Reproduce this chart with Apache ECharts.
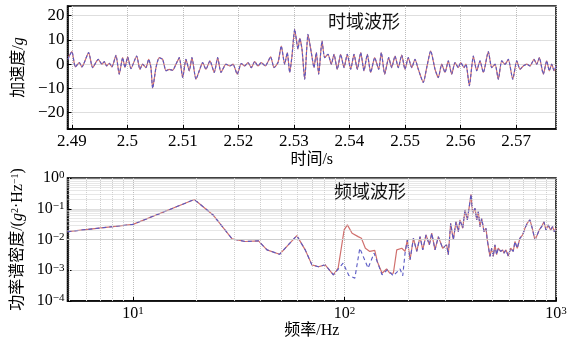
<!DOCTYPE html>
<html>
<head>
<meta charset="utf-8">
<script src="https://cdn.jsdelivr.net/npm/echarts@6/dist/echarts.min.js"></script>
<style>
  html, body { margin: 0; padding: 0; background: #fff; }
  #chart { width: 573px; height: 343px; }
</style>
</head>
<body>
<div id="chart"></div>
<script>
// 时域波形 (time / s, acceleration / g)
var timeS = [
  2.4893, 2.48951, 2.4900, 2.49059, 2.49103, 2.49132, 2.4918, 2.49301, 2.49373, 2.49474,
  2.49541, 2.49582, 2.49625, 2.49672, 2.49721, 2.49793, 2.49852, 2.49914, 2.49955, 2.50004,
  2.50063, 2.50166, 2.50225, 2.50274, 2.50333, 2.50382, 2.50423, 2.50454, 2.50514, 2.50573,
  2.50634, 2.50694, 2.50753, 2.50814, 2.50874, 2.50933, 2.50995, 2.51054, 2.51114, 2.51162,
  2.51234, 2.51294, 2.51355, 2.51414, 2.51486, 2.51564, 2.51625, 2.51685, 2.51775, 2.51847,
  2.51901, 2.51978, 2.5205, 2.52112, 2.52171, 2.52231, 2.52292, 2.52351, 2.52411, 2.52483,
  2.5258, 2.5264, 2.52712, 2.52771, 2.52832, 2.52879, 2.52923, 2.52964, 2.53013, 2.53072,
  2.53103, 2.53144, 2.53193, 2.53252, 2.53312, 2.5336, 2.53402, 2.53445, 2.53505, 2.53553,
  2.53613, 2.53672, 2.53721, 2.5378, 2.53841, 2.53901, 2.5396, 2.54022, 2.54081, 2.54141,
  2.54202, 2.54261, 2.54321, 2.54382, 2.54454, 2.54526, 2.54573, 2.54634, 2.54706, 2.5476,
  2.5482, 2.54879, 2.54941, 2.55, 2.55059, 2.55121, 2.5518, 2.5524, 2.5533, 2.55391,
  2.55463, 2.55541, 2.556, 2.55661, 2.55721, 2.5578, 2.55841, 2.55901, 2.5596, 2.56004,
  2.56063, 2.56099, 2.56159, 2.56231, 2.56292, 2.56351, 2.56411, 2.56501, 2.56562, 2.56622,
  2.56681, 2.56742, 2.56802, 2.56861, 2.56941, 2.57013, 2.57072, 2.57131, 2.57193, 2.57252,
  2.57324, 2.57373, 2.5742, 2.57492, 2.57553, 2.576, 2.57643, 2.57685, 2.57721
]
var accelG = [
  2.0, 3.4, 5.2, -1.1, 0, 0.7, -1.1, 4.8, -1.4, 2.0,
  0, 1.1, -0.7, 0.4, -1.1, 3.7, -4.1, 2.7, -1.4, 3.0,
  -1.8, 3.4, -2.1, 0, -1.4, 2.0, -1.4, -9.9, -1.4, 2.7,
  2.0, -2.7, -2.1, -2.5, 0, 2.7, -5.5, 2.0, -2.7, 2.7,
  -6.2, -2.7, 0.7, -2.1, 1.4, -3.4, 2.7, -3.4, 0, -0.7,
  0, -4.1, 0.3, -0.7, 0.7, -1.4, 1.1, -0.7, 0.7, -0.7,
  3.0, -1.4, 0.7, 7.5, 0, 4.8, -3.4, 3.4, 14.4, 6.2,
  10.7, 6.2, -6.2, 12.3, 4.8, -1.4, 4.8, -4.1, 9.6, 2.7,
  4.1, 0, 4.1, -2.1, 4.1, -1.4, 4.1, -2.1, 4.1, -2.1,
  4.8, -2.7, 4.1, -3.4, 2.7, -2.1, 4.8, -4.1, 2.7, -1.4,
  3.4, -1.4, 3.8, -2.1, 2.7, -1.4, 2.0, -2.1, -7.5, -1.4,
  5.5, -2.1, -5.5, 0, -3.4, 1.4, -4.1, 0.7, -1.4, 0.7,
  -1.4, 0, -8.9, 3.4, -2.7, 1.4, -3.4, 5.2, -1.4, 0,
  -6.2, 1.4, 0, 2.0, -6.2, 1.4, -2.1, -0.7, 0, -0.7,
  2.0, 0, 2.7, -4.1, 1.4, -2.7, 0, -2.7, -0.7
]

// 频域波形 (frequency / Hz, PSD / g^2·Hz^-1)
var freqLow = [4.9, 10, 19.5, 23.9, 29.4, 33.9, 39.2, 43.0, 49.3, 59.5, 65.2, 70.1, 75.3, 81.0, 88.6]
var psdLow = [0.018, 0.031, 0.20, 0.063, 0.0105, 0.0086, 0.0090, 0.0046, 0.0033, 0.0134, 0.0046, 0.0015, 0.0013, 0.0015, 0.00071]

var freqRedMid = [93.3, 99.6, 103.2, 108.6, 116.0, 120.2, 125.5, 131.7, 139.0, 143.0, 150.5, 158.1, 163.7, 170.2, 176.6, 186.6, 193.3]
var psdRedMid = [0.00117, 0.0205, 0.0298, 0.016, 0.0124, 0.011, 0.0052, 0.0041, 0.0044, 0.0019, 0.0008, 0.0011, 0.0008, 0.0008, 0.0046, 0.0052, 0.0041]

var freqBlueMid = [98.5, 104.8, 111.9, 118.1, 129.3, 138.0, 150.5, 159.4, 170.2, 183.0, 188.5, 193.3]
var psdBlueMid = [0.0017, 0.00068, 0.00055, 0.0052, 0.00117, 0.0036, 0.00071, 0.00103, 0.00066, 0.00111, 0.00066, 0.0036]

var freqHigh = [
  198.2, 204.2, 211.7, 219.6, 227.6, 234.4, 242.9, 251.8, 258.5, 267.9,
  277.7, 291.2, 304.1, 309.5, 317.7, 326.9, 336.7, 345.1, 351.6, 362.1,
  371.3, 380.7, 389.0, 396.3, 403.7, 414.1, 421.8, 429.2, 437.2, 445.4,
  456.6, 466.7, 473.2, 487.3, 496.3, 505.0, 514.4, 524.0, 533.3, 547.4,
  559.5, 567.5, 580.0, 594.7, 610.4, 627.9, 639.6, 655.8, 675.4, 695.5,
  713.1, 731.1, 752.9, 772.0, 795.0, 815.2, 833.1, 855.1, 876.8, 896.0,
  918.8, 942.9, 963.6, 980.6, 1000
]
var psdHigh = [
  0.0097, 0.0022, 0.011, 0.0041, 0.0124, 0.0046, 0.0141, 0.0067, 0.016, 0.0046,
  0.0124, 0.0052, 0.0067, 0.0032, 0.0338, 0.0097, 0.0381, 0.018, 0.0433, 0.0233,
  0.0914, 0.0433, 0.117, 0.30, 0.0714, 0.104, 0.0433, 0.0805, 0.0262, 0.0491,
  0.018, 0.0233, 0.0097, 0.0028, 0.0052, 0.0028, 0.0067, 0.0032, 0.0052, 0.0041,
  0.0046, 0.0036, 0.0046, 0.0029, 0.0052, 0.0041, 0.0086, 0.0052, 0.011, 0.0141,
  0.0233, 0.0338, 0.0433, 0.0233, 0.0097, 0.0141, 0.0205, 0.0262, 0.0381, 0.0205,
  0.0298, 0.0205, 0.0262, 0.018, 0.0233
]

var RED = '#d0706e'
var BLUE = '#5a5ac4'
var NUM_FONT = '"Liberation Serif", "Noto Sans CJK SC", serif'
var CJK_FONT = '"Liberation Serif", "Noto Sans CJK SC", serif'

function pairs(xs, ys) {
  return xs.map(function (x, i) { return [x, ys[i]] })
}

var waveData = pairs(timeS, accelG)
var psdRed = pairs(freqLow, psdLow).concat(pairs(freqRedMid, psdRedMid), pairs(freqHigh, psdHigh))
var psdBlue = pairs(freqLow, psdLow).concat(pairs(freqBlueMid, psdBlueMid), pairs(freqHigh, psdHigh))

// 对数坐标的次网格线 (2..9 × 10^k)
var minorX = []
var minorY = []
;[1, 10, 100].forEach(function (d) {
  for (var k = 2; k <= 9; k++) {
    if (d * k > 4.9 && d * k < 1000) minorX.push(d * k)
  }
})
;[1e-4, 1e-3, 1e-2, 1e-1].forEach(function (d) {
  for (var k = 2; k <= 9; k++) minorY.push(+(d * k).toPrecision(3))
})

function powLabel(v) {
  var e = Math.log10(v)
  var r = Math.round(e)
  if (Math.abs(e - r) > 1e-6) return ''
  return '{b|10}{s|' + String(r).replace('-', '−') + '}'
}

var powRich = {
  b: { fontFamily: NUM_FONT, fontSize: 16, color: '#000' },
  s: { fontFamily: NUM_FONT, fontSize: 11, color: '#000', verticalAlign: 'top' }
}

var axisLineStyle = { show: true, onZero: false, lineStyle: { color: '#000', width: 1.5 } }
var tickStyle = { show: true, inside: true, length: 4, lineStyle: { color: '#000', width: 1 } }
var majorGrid = { show: true, lineStyle: { color: '#bdbdbd', type: 'dotted', width: 1 } }

var myChart = echarts.init(document.getElementById('chart'))

var option = {
  animation: false,
  backgroundColor: '#fff',
  title: [
    {
      text: '时域波形', left: 328, top: 14, padding: 0,
      textStyle: { fontFamily: CJK_FONT, fontSize: 18, fontWeight: 'normal', color: '#111' }
    },
    {
      text: '频域波形', left: 334, top: 184, padding: 0,
      textStyle: { fontFamily: CJK_FONT, fontSize: 18, fontWeight: 'normal', color: '#111' }
    }
  ],
  grid: [
    { left: 67.5, right: 17, top: 6, height: 123, show: true, borderColor: '#000', borderWidth: 1.5, backgroundColor: '#fff' },
    { left: 67.5, right: 17, top: 178, height: 123, show: true, borderColor: '#000', borderWidth: 1.5, backgroundColor: '#fff' }
  ],
  xAxis: [
    {
      type: 'value',
      gridIndex: 0,
      min: 2.4892,
      max: 2.5772,
      splitNumber: 8,
      axisLine: axisLineStyle,
      axisTick: tickStyle,
      splitLine: majorGrid,
      axisLabel: {
        color: '#000', fontFamily: NUM_FONT, fontSize: 17, margin: 4,
        showMinLabel: false, showMaxLabel: false,
        formatter: function (v) {
          var c = v * 100
          if (Math.abs(c - Math.round(c)) > 1e-6) return ''
          return String(+v.toFixed(2))
        }
      },
      name: '时间/s',
      nameLocation: 'middle',
      nameGap: 23,
      nameTextStyle: { color: '#000', fontFamily: CJK_FONT, fontSize: 16, verticalAlign: 'top' }
    },
    {
      type: 'log',
      logBase: 10,
      gridIndex: 1,
      min: 4.9,
      max: 1000,
      axisLine: axisLineStyle,
      axisTick: tickStyle,
      splitLine: majorGrid,
      axisLabel: { margin: 5, formatter: powLabel, rich: powRich, showMinLabel: false },
      name: '频率/Hz',
      nameLocation: 'middle',
      nameGap: 21,
      nameTextStyle: { color: '#000', fontFamily: CJK_FONT, fontSize: 16, verticalAlign: 'top' }
    }
  ],
  yAxis: [
    {
      type: 'value',
      gridIndex: 0,
      min: -26.7,
      max: 24,
      splitNumber: 5,
      axisLine: axisLineStyle,
      axisTick: tickStyle,
      splitLine: majorGrid,
      axisLabel: {
        color: '#000', fontFamily: NUM_FONT, fontSize: 17, margin: 3,
        formatter: function (v) {
          if (Math.abs(v / 10 - Math.round(v / 10)) > 1e-6) return ''
          return String(Math.round(v)).replace('-', '−')
        }
      },
      name: '加速度/{i|g}',
      nameLocation: 'middle',
      nameRotate: 90,
      nameGap: 37,
      nameTextStyle: {
        color: '#000', fontFamily: CJK_FONT, fontSize: 16,
        rich: { i: { fontFamily: NUM_FONT, fontStyle: 'italic', fontSize: 16, color: '#000' } }
      }
    },
    {
      type: 'log',
      logBase: 10,
      gridIndex: 1,
      min: 1e-4,
      max: 1,
      axisLine: axisLineStyle,
      axisTick: tickStyle,
      splitLine: majorGrid,
      axisLabel: { margin: 3, formatter: powLabel, rich: powRich },
      name: '功率谱密度/({i|g}{s|2}·Hz{s|−1})',
      nameLocation: 'middle',
      nameRotate: 90,
      nameGap: 39,
      nameTextStyle: {
        color: '#000', fontFamily: CJK_FONT, fontSize: 16,
        rich: {
          i: { fontFamily: NUM_FONT, fontStyle: 'italic', fontSize: 16, color: '#000' },
          s: { fontFamily: NUM_FONT, fontSize: 10, color: '#000', verticalAlign: 'top' }
        }
      }
    }
  ],
  series: [
    {
      type: 'line',
      xAxisIndex: 1,
      yAxisIndex: 1,
      data: [],
      z: 1,
      silent: true,
      markLine: {
        silent: true,
        animation: false,
        symbol: ['none', 'none'],
        label: { show: false },
        lineStyle: { color: '#cfcfcf', type: 'dotted', width: 1 },
        data: minorX.map(function (v) { return { xAxis: v } })
          .concat(minorY.map(function (v) { return { yAxis: v } }))
      }
    },
    {
      name: 'red-time',
      type: 'line',
      xAxisIndex: 0,
      yAxisIndex: 0,
      data: waveData,
      showSymbol: false,
      smooth: 0.2,
      z: 3,
      lineStyle: { color: RED, width: 1.2 }
    },
    {
      name: 'blue-time',
      type: 'line',
      xAxisIndex: 0,
      yAxisIndex: 0,
      data: waveData,
      showSymbol: false,
      smooth: 0.2,
      z: 4,
      lineStyle: { color: BLUE, width: 1.1, type: [3, 2] }
    },
    {
      name: 'red-psd',
      type: 'line',
      xAxisIndex: 1,
      yAxisIndex: 1,
      data: psdRed,
      showSymbol: false,
      z: 3,
      lineStyle: { color: RED, width: 1.2 }
    },
    {
      name: 'blue-psd',
      type: 'line',
      xAxisIndex: 1,
      yAxisIndex: 1,
      data: psdBlue,
      showSymbol: false,
      z: 4,
      lineStyle: { color: BLUE, width: 1.1, type: [4, 3] }
    }
  ]
}

myChart.setOption(option)
</script>
</body>
</html>
